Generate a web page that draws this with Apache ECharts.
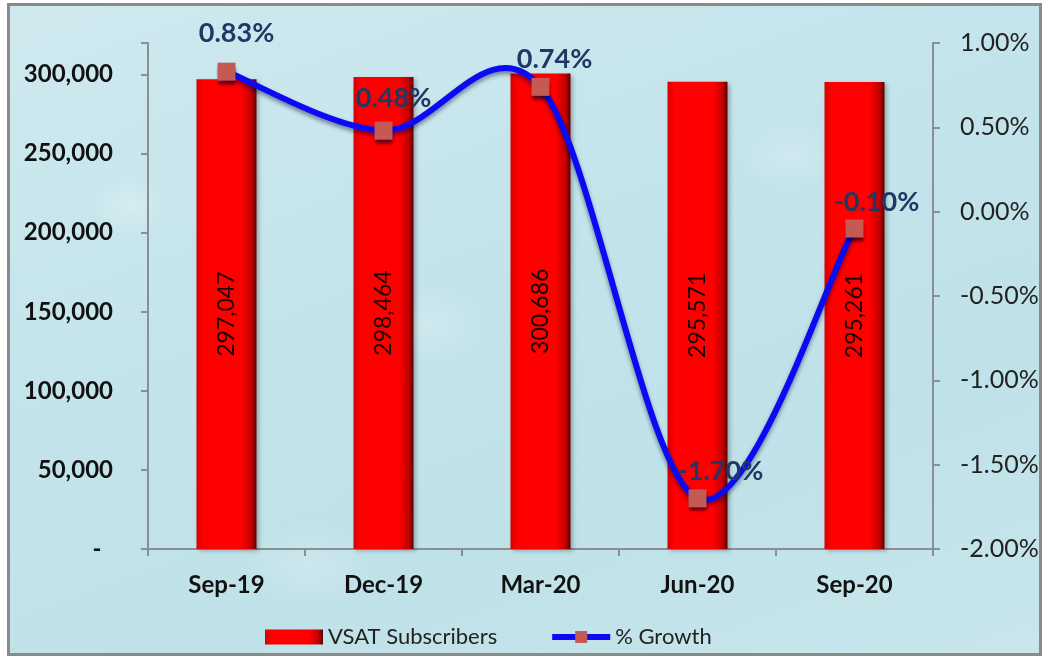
<!DOCTYPE html>
<html>
<head>
<meta charset="utf-8">
<script src="https://cdn.jsdelivr.net/npm/echarts@6/dist/echarts.min.js"></script>
<style>
html,body{margin:0;padding:0;width:1047px;height:657px;overflow:hidden;}
#frame{position:absolute;left:7px;top:3px;width:1035px;height:653px;box-sizing:border-box;border:3px solid #8a8a8a;
background:
 radial-gradient(ellipse 40px 30px at 120px 200px, rgba(255,255,255,0.25), transparent),
 radial-gradient(ellipse 60px 40px at 420px 320px, rgba(255,255,255,0.2), transparent),
 radial-gradient(ellipse 50px 35px at 780px 150px, rgba(255,255,255,0.2), transparent),
 radial-gradient(ellipse 70px 45px at 300px 560px, rgba(255,255,255,0.2), transparent),
 linear-gradient(160deg,#cfe9ef 0%,#c4e4eb 40%,#bfe1e8 70%,#c8e6ec 100%);}
#chart{position:absolute;left:0;top:0;width:1047px;height:657px;}
</style>
</head>
<body>
<div id="frame"></div>
<div id="chart"></div>
<script>
const categories = ['Sep-19','Dec-19','Mar-20','Jun-20','Sep-20'];
const subscribers = [297047, 298464, 300686, 295571, 295261];
const growth = [0.83, 0.48, 0.74, -1.70, -0.10];
const growthLabelOffsets = [[10,0],[10,6],[14,11],[23,11],[22,12]];

const font = 'Lato, "Open Sans", sans-serif';
const chart = echarts.init(document.getElementById('chart'), null, {renderer:'canvas'});

const barGrad = new echarts.graphic.LinearGradient(0,0,1,0,[
  {offset:0,color:'#d80000'},
  {offset:0.12,color:'#ff0000'},
  {offset:0.75,color:'#ff0000'},
  {offset:0.92,color:'#c00000'},
  {offset:1,color:'#5a0000'}
]);

// Smooth curve (Catmull-Rom style, like the spreadsheet's smoothed line) drawn through the axis scale
function renderCurve(params, api){
  const i = params.dataIndex, n = growth.length;
  if (i >= n-1) return null;
  const P = function(j){ j = Math.max(0, Math.min(n-1, j)); return api.coord([j, growth[j]]); };
  const p0 = P(i-1), p1 = P(i), p2 = P(i+1), p3 = P(i+2);
  const cp1 = [p1[0] + (p2[0]-p0[0])/6, p1[1] + (p2[1]-p0[1])/6];
  const cp2 = [p2[0] - (p3[0]-p1[0])/6, p2[1] - (p3[1]-p1[1])/6];
  return {
    type:'bezierCurve',
    shape:{x1:p1[0],y1:p1[1],x2:p2[0],y2:p2[1],cpx1:cp1[0],cpy1:cp1[1],cpx2:cp2[0],cpy2:cp2[1]},
    style:{stroke:'#0a0af5',lineWidth:6,fill:null,lineCap:'round',
      shadowColor:'rgba(0,0,50,0.45)',shadowBlur:4,shadowOffsetY:3}
  };
}

chart.setOption({
  backgroundColor:'transparent',
  animation:false,
  grid:{left:148,right:114,top:43,bottom:108,containLabel:false},
  legend:{
    top:621,left:260,itemGap:52,itemWidth:58,itemHeight:15,
    textStyle:{fontFamily:font,fontSize:22,color:'#222'},
    data:[
      {name:'VSAT Subscribers',icon:'rect'},
      {name:'% Growth',lineStyle:{color:'#0a0af5',width:6,opacity:1}}
    ]
  },
  xAxis:{
    type:'category',data:categories,
    axisLine:{lineStyle:{color:'#8a8f94',width:2}},
    axisTick:{show:true,alignWithLabel:false,length:7,lineStyle:{color:'#8a8f94',width:2}},
    axisLabel:{fontFamily:font,fontWeight:'bold',fontSize:24,color:'#111',margin:24}
  },
  yAxis:[{
    type:'value',min:0,max:320000,interval:50000,
    splitLine:{show:false},
    axisLine:{show:true,lineStyle:{color:'#8a8f94',width:2}},
    axisTick:{show:true,length:7,lineStyle:{color:'#8a8f94',width:2}},
    axisLabel:{fontFamily:font,fontWeight:'bold',fontSize:24,color:'#111',margin:35,
      formatter:function(v){ if(v===0) return '-  '; if(v%50000!==0) return ''; return v.toLocaleString('en-US'); }}
  },{
    type:'value',min:-2,max:1,interval:0.5,position:'right',
    splitLine:{show:false},
    axisLine:{show:true,lineStyle:{color:'#8a8f94',width:2}},
    axisTick:{show:true,length:7,lineStyle:{color:'#8a8f94',width:2}},
    axisLabel:{fontFamily:font,fontSize:25,color:'#222',margin:27,
      formatter:function(v){ return v.toFixed(2)+'%'; }}
  }],
  series:[{
    name:'VSAT Subscribers',type:'bar',yAxisIndex:0,barWidth:60,
    data:subscribers,
    itemStyle:{color:barGrad,shadowColor:'rgba(0,0,0,0.25)',shadowBlur:4,shadowOffsetX:2,shadowOffsetY:2},
    label:{show:true,position:'inside',rotate:90,fontFamily:font,fontSize:23,color:'#1a0505',
      formatter:function(p){ return p.value.toLocaleString('en-US'); }}
  },{
    name:'% Growth curve',type:'custom',yAxisIndex:1,
    data:growth.map(function(v,i){ return [i,v]; }),
    renderItem:renderCurve,
    z:4, silent:true
  },{
    name:'% Growth',type:'line',yAxisIndex:1,
    data:growth.map(function(v,i){ return {value:v,label:{offset:growthLabelOffsets[i]}}; }),
    symbol:'rect',symbolSize:18,
    lineStyle:{color:'#0a0af5',width:6,opacity:0},
    itemStyle:{color:'#c55a55',borderWidth:0,shadowColor:'rgba(0,0,40,0.6)',shadowBlur:3,shadowOffsetY:4},
    label:{show:true,position:'top',distance:16,fontFamily:font,fontWeight:'bold',fontSize:27,color:'#1f3864',
      formatter:function(p){ return p.value.toFixed(2)+'%'; }},
    z:5
  }]
});
</script>
</body>
</html>
